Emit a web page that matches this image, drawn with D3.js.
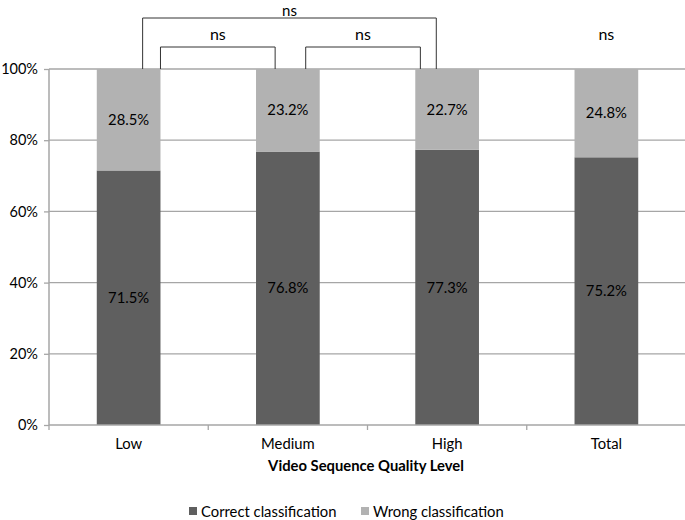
<!DOCTYPE html>
<html><head><meta charset="utf-8">
<script src="https://cdn.jsdelivr.net/npm/d3@7"></script>
<style>body{margin:0;background:#fff}svg{display:block}text{font-family:Lato,"Open Sans",sans-serif}</style>
</head><body>
<svg id="c" width="685" height="520"></svg>
<script>
const categories = ["Low", "Medium", "High", "Total"];
const correct = [71.5, 76.8, 77.3, 75.2];
const wrong = [28.5, 23.2, 22.7, 24.8];
const seriesNames = ["Correct classification", "Wrong classification"];
const yTicks = [0, 20, 40, 60, 80, 100];
const brackets = [
  {from: "Low", to: "High", label: "ns", level: 2},
  {from: "Low", to: "Medium", label: "ns", level: 1},
  {from: "Medium", to: "High", label: "ns", level: 1}
];
const singleLabels = [{cat: "Total", label: "ns"}];

const svg = d3.select("#c");
const colors = ["#5f5f5f", "#b2b2b2"];
const axisColor = "#a6a6a6";
const fs = 14.8;
const x = d3.scaleBand().domain(categories).range([49, 686]).paddingInner(0.6).paddingOuter(0.3);
const xb = d3.scaleBand().domain(categories).range([49, 686]);
const y = d3.scaleLinear().domain([0, 100]).range([425, 69]);

// gridlines
svg.append("g").selectAll("line").data(yTicks.filter(d => d > 0)).join("line")
  .attr("x1", 49).attr("x2", 685).attr("y1", d => y(d)).attr("y2", d => y(d))
  .attr("stroke", axisColor).attr("stroke-width", 1.3);

// y axis
const yAxis = svg.append("g").attr("transform", "translate(49,0)")
  .call(d3.axisLeft(y).tickValues(yTicks).tickSize(5).tickPadding(6).tickFormat(d => d + "%"));
yAxis.selectAll("line").attr("stroke", axisColor).attr("stroke-width", 1.3);
yAxis.select(".domain").attr("stroke", axisColor).attr("stroke-width", 1.5).attr("d", "M0,425V69");
yAxis.selectAll("text").attr("font-size", 14.5).attr("fill", "#000").attr("font-family", "Lato");

// stacked data
const rows = categories.map((c, i) => ({cat: c, correct: correct[i], wrong: wrong[i]}));
const stack = d3.stack().keys(["correct", "wrong"])(rows);
const g = svg.append("g");
stack.forEach((s, si) => {
  g.append("g").selectAll("rect").data(s).join("rect")
    .attr("x", d => x(d.data.cat)).attr("width", x.bandwidth())
    .attr("y", d => y(d[1])).attr("height", d => y(d[0]) - y(d[1]))
    .attr("fill", colors[si]);
  g.append("g").selectAll("text").data(s).join("text")
    .attr("x", d => x(d.data.cat) + x.bandwidth() / 2)
    .attr("y", d => (y(d[0]) + y(d[1])) / 2).attr("dy", "0.35em")
    .attr("text-anchor", "middle").attr("font-size", fs)
    .text(d => (d[1] - d[0]).toFixed(1) + "%");
});

// x axis
const xAxis = svg.append("g").attr("transform", "translate(0,425)");
xAxis.append("line").attr("x1", 49).attr("x2", 685).attr("stroke", axisColor).attr("stroke-width", 1.5);
xAxis.selectAll("line.t").data(categories).join("line").attr("class", "t")
  .attr("x1", d => xb(d)).attr("x2", d => xb(d)).attr("y1", 0).attr("y2", 5)
  .attr("stroke", axisColor).attr("stroke-width", 1.3);
xAxis.selectAll("text").data(categories).join("text")
  .attr("x", d => xb(d) + xb.bandwidth() / 2).attr("y", 24)
  .attr("text-anchor", "middle").attr("font-size", fs).text(d => d);

svg.append("text").attr("x", 366).attr("y", 471).attr("text-anchor", "middle")
  .attr("font-size", fs).attr("font-weight", "bold").text("Video Sequence Quality Level");

// brackets
const bracketDefs = [
  {x1: x("Low") + x.bandwidth() * 0.72, x2: x("High") + x.bandwidth() * 0.33, top: 18, ly: 15.5, fsz: 15},
  {x1: x("Low") + x.bandwidth(), x2: x("Medium") + x.bandwidth() * 0.3, top: 47, ly: 40, fsz: 16},
  {x1: x("Medium") + x.bandwidth() * 0.78, x2: x("High") + x.bandwidth() * 0.08, top: 47, ly: 40, fsz: 16}
];
brackets.forEach((b, i) => {
  const d = bracketDefs[i];
  svg.append("path").attr("d", `M${d.x1},69V${d.top}H${d.x2}V69`)
    .attr("fill", "none").attr("stroke", "#333").attr("stroke-width", 1);
  svg.append("text").attr("x", (d.x1 + d.x2) / 2).attr("y", d.ly)
    .attr("text-anchor", "middle").attr("font-size", d.fsz).text(b.label);
});
singleLabels.forEach(s => {
  svg.append("text").attr("x", x(s.cat) + x.bandwidth() / 2).attr("y", 40)
    .attr("text-anchor", "middle").attr("font-size", 16).text(s.label);
});

// legend
const leg = svg.append("g").attr("transform", "translate(0,517)");
const legX = [189, 361];
seriesNames.forEach((n, i) => {
  leg.append("rect").attr("x", legX[i]).attr("y", -10).attr("width", 8).attr("height", 8).attr("fill", colors[i]);
  leg.append("text").attr("x", legX[i] + 12).attr("y", 0).attr("font-size", fs).text(n);
});
</script>
</body></html>
